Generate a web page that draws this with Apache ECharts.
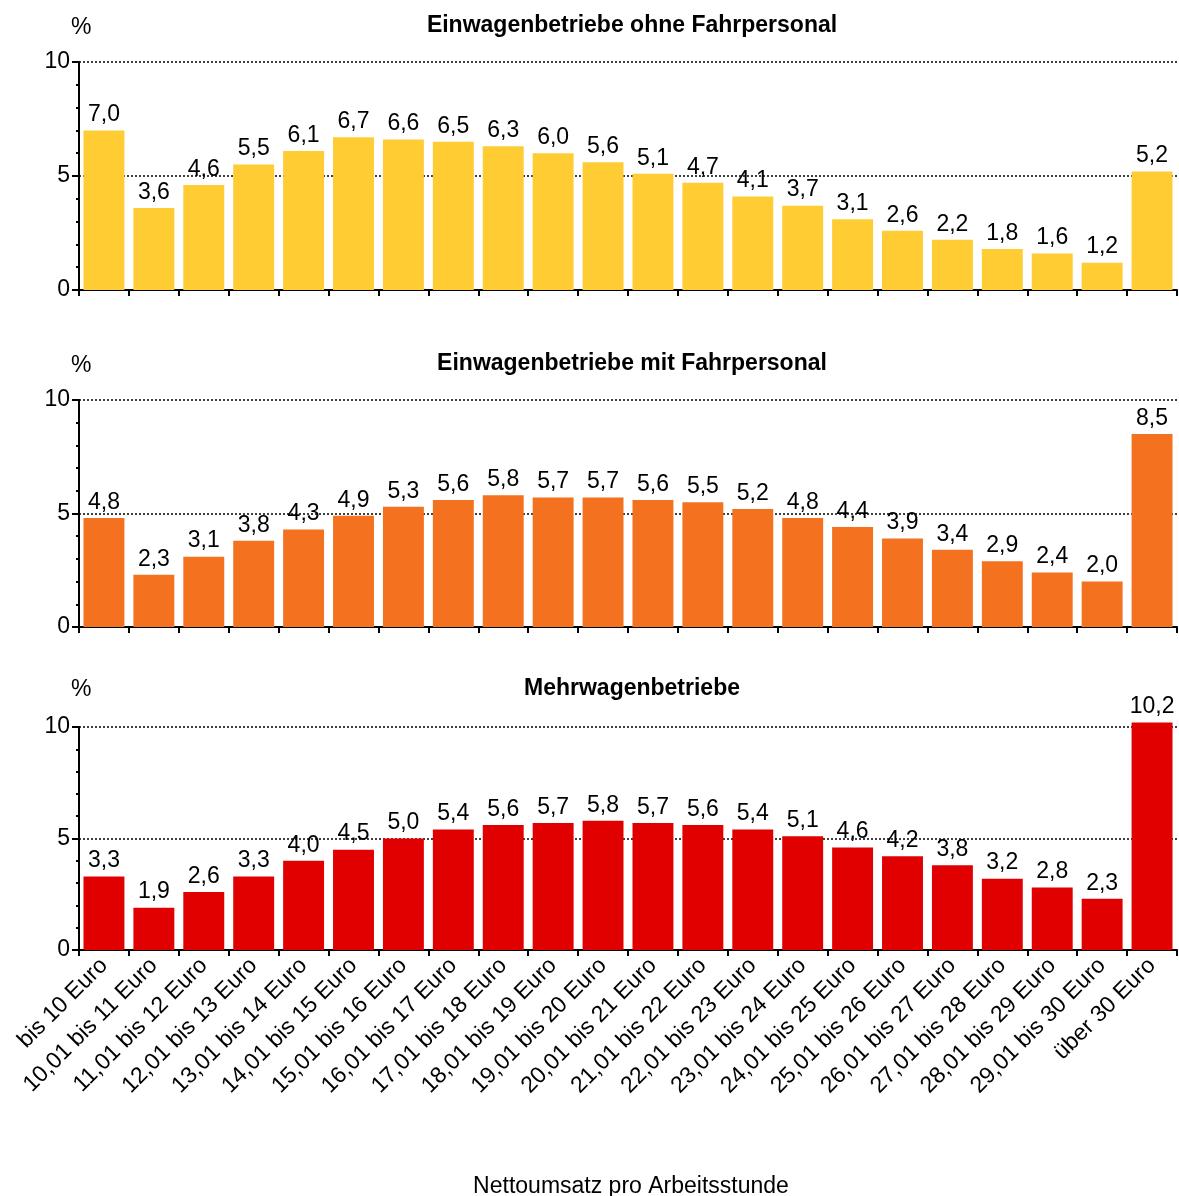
<!DOCTYPE html>
<html><head><meta charset="utf-8">
<script src="https://cdn.jsdelivr.net/npm/echarts@6/dist/echarts.min.js"></script>
<style>html,body{margin:0;padding:0;background:#fff}#c{width:1179px;height:1196px}</style>
</head><body><div id="c"></div>
<script>
const categories = ["bis 10 Euro","10,01 bis 11 Euro","11,01 bis 12 Euro","12,01 bis 13 Euro","13,01 bis 14 Euro","14,01 bis 15 Euro","15,01 bis 16 Euro","16,01 bis 17 Euro","17,01 bis 18 Euro","18,01 bis 19 Euro","19,01 bis 20 Euro","20,01 bis 21 Euro","21,01 bis 22 Euro","22,01 bis 23 Euro","23,01 bis 24 Euro","24,01 bis 25 Euro","25,01 bis 26 Euro","26,01 bis 27 Euro","27,01 bis 28 Euro","28,01 bis 29 Euro","29,01 bis 30 Euro","über 30 Euro"];
const ohneFahrpersonal = [7.0,3.6,4.6,5.5,6.1,6.7,6.6,6.5,6.3,6.0,5.6,5.1,4.7,4.1,3.7,3.1,2.6,2.2,1.8,1.6,1.2,5.2];
const mitFahrpersonal = [4.8,2.3,3.1,3.8,4.3,4.9,5.3,5.6,5.8,5.7,5.7,5.6,5.5,5.2,4.8,4.4,3.9,3.4,2.9,2.4,2.0,8.5];
const mehrwagen = [3.3,1.9,2.6,3.3,4.0,4.5,5.0,5.4,5.6,5.7,5.8,5.7,5.6,5.4,5.1,4.6,4.2,3.8,3.2,2.8,2.3,10.2];
const titles = ["Einwagenbetriebe ohne Fahrpersonal","Einwagenbetriebe mit Fahrpersonal","Mehrwagenbetriebe"];
const yTicks = [0,5,10];
const xTitle = "Nettoumsatz pro Arbeitsstunde";

const FONT = "'Liberation Sans', Arial, sans-serif";
const FS = 23;
const colors = ['#FFCC33','#F47120','#E00000'];
const grids = [
  {left:79, width:1098, top:62, height:228},
  {left:79, width:1098, top:400, height:227},
  {left:79, width:1098, top:727, height:223}
];
const seriesData = [ohneFahrpersonal, mitFahrpersonal, mehrwagen];
const fmt = v => Number(v).toFixed(1).replace('.', ',');

const option = {
  animation:false,
  backgroundColor:'#fff',
  title: [
    ...titles.map((t,i)=>({text:t, left:627, textAlign:'center', top:[9,347,672][i],
      textStyle:{fontFamily:FONT,fontSize:FS,fontWeight:'bold',color:'#000'}})),
    ...[0,1,2].map(i=>({text:'%', left:66, top:[11,349,673][i],
      textStyle:{fontFamily:FONT,fontSize:FS,fontWeight:'normal',color:'#000'}})),
    {text:xTitle, left:626, textAlign:'center', top:1170, textStyle:{fontFamily:FONT,fontSize:FS,fontWeight:'normal',color:'#000'}}
  ],
  grid: grids,
  xAxis: grids.map((g,i)=>({
    type:'category', gridIndex:i, data:categories,
    axisLine:{lineStyle:{color:'#000',width:2}},
    axisTick:{show:true, alignWithLabel:false, length:6, lineStyle:{color:'#000',width:2}},
    axisLabel:{show:i===2, rotate:45, interval:0, fontFamily:FONT, fontSize:FS, color:'#000', margin:12},
    splitLine:{show:false}
  })),
  yAxis: grids.map((g,i)=>({
    type:'value', gridIndex:i, min:yTicks[0], max:yTicks[yTicks.length-1], interval:5,
    axisLine:{show:true, lineStyle:{color:'#000',width:2}},
    axisTick:{show:true, length:7, lineStyle:{color:'#000',width:2}},
    minorTick:{show:true, splitNumber:5, length:3, lineStyle:{color:'#000',width:2}},
    axisLabel:{fontFamily:FONT, fontSize:FS, color:'#000', margin:9},
    splitLine:{show:true, lineStyle:{color:'#000', type:[2,2], width:1.5}}
  })),
  series: seriesData.map((d,i)=>({
    type:'bar', xAxisIndex:i, yAxisIndex:i, data:d, clip:false,
    barCategoryGap:'18%',
    itemStyle:{color:colors[i]},
    label:{show:true, position:'top', distance:4, formatter:p=>fmt(p.value),
      fontFamily:FONT, fontSize:FS, color:'#000'}
  }))
};
echarts.init(document.getElementById('c')).setOption(option);
</script></body></html>
